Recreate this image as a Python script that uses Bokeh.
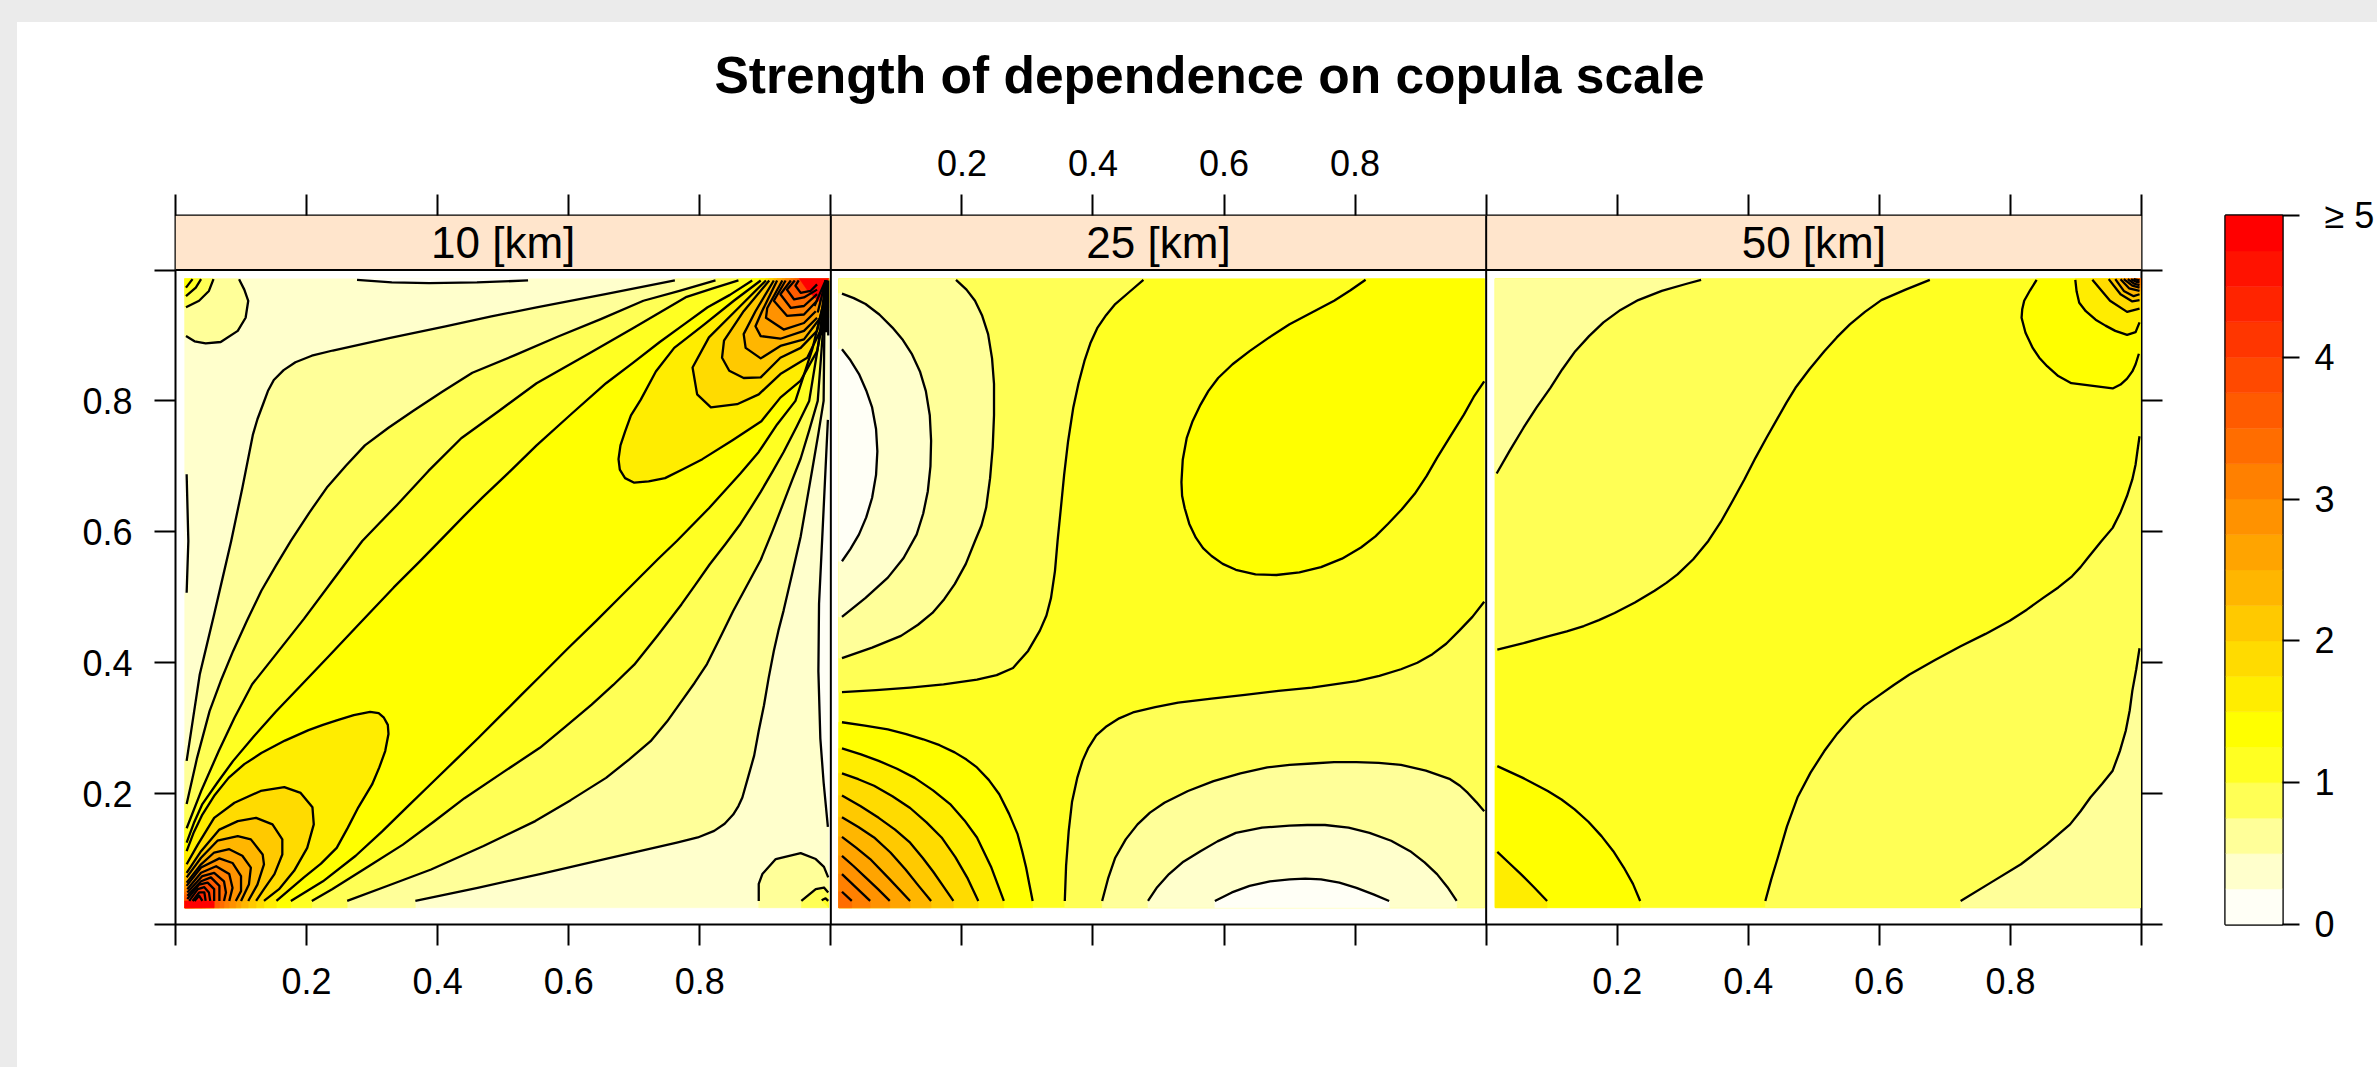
from bokeh.plotting import figure
from bokeh.layouts import row
from bokeh.models import Range1d, LinearAxis, FixedTicker, Title
from bokeh.core.properties import value
from bokeh.embed import file_html
from bokeh.resources import INLINE

TITLE = "Strength of dependence on copula scale"
STRIPS = ["10 [km]", "25 [km]", "50 [km]"]
TICKS = [0.0, 0.2, 0.4, 0.6, 0.8, 1.0]
KEY_TICKS = [0, 1, 2, 3, 4, 5]
KEY_LABELS = ["0", "1", "2", "3", "4", "\u00a0\u2265\u00a05"]
LEVEL_STEP = 0.25
# colour of each 0.25 wide band, low to high
BAND_COLORS = ["#FFFFF6", "#FFFFCC", "#FFFF99", "#FFFF55", "#FFFF22",
               "#FFFF00", "#FFED00", "#FFDB00", "#FFC900", "#FFB600",
               "#FFA400", "#FF9200", "#FF8000", "#FF6D00", "#FF5B00",
               "#FF4900", "#FF3600", "#FF2400", "#FF1200", "#FF0000"]
FONT = "Liberation Sans"

# ---- extent of the coloured cells in each panel: xmin, xmax, ymin, ymax
REGIONS = [(0.014, 0.997, 0.0257, 0.9867),
           (0.012, 0.9975, 0.0257, 0.9867),
           (0.0136, 0.9985, 0.0257, 0.9867)]

# ---- panel 1 (10 km): contour lines
P1_U0 = [(.762,.984),(.656,.963),(.551,.943),(.482,.929),(.412,.914),(.326,.896),(.240,.877),(.208,.869),(.183,.859),(.165,.847),(.150,.832),(.141,.815),(.134,.796),(.125,.772),(.118,.748),(.102,.667),(.085,.586),(.072,.530),(.059,.474),(.048,.428),(.037,.382),(.027,.316),(.017,.250)]
P1_U1 = [(.824,.984),(.769,.968),(.714,.953),(.649,.925),(.583,.898),(.518,.870),(.453,.843),(.407,.814),(.363,.785),(.325,.759),(.289,.732),(.260,.701),(.232,.669),(.204,.629),(.176,.586),(.153,.548),(.131,.510),(.109,.464),(.088,.418),(.069,.372),(.052,.326),(.033,.255),(.017,.184)]
P1_U2 = [(.859,.984),(.820,.972),(.780,.959),(.739,.935),(.698,.911),(.625,.869),(.551,.827),(.494,.785),(.436,.743),(.386,.693),(.338,.641),(.311,.613),(.285,.586),(.240,.526),(.196,.467),(.155,.415),(.117,.367),(.090,.316),(.066,.265),(.040,.206),(.017,.147)]
P1_U3 = [(.880,.984),(.846,.962),(.812,.943),(.776,.917),(.739,.890),(.698,.858),(.657,.827),(.604,.780),(.551,.732),(.510,.692),(.469,.653),(.440,.624),(.410,.593),(.372,.554),(.333,.515),(.282,.461),(.232,.408),(.192,.366),(.153,.325),(.120,.288),(.088,.250),(.064,.217),(.041,.184),(.028,.155),(.017,.125)]
P1_L0 = [(.366,.036),(.461,.056),(.556,.077),(.660,.101),(.765,.125),(.797,.133),(.822,.143),(.838,.154),(.851,.168),(.859,.181),(.865,.194),(.874,.226),(.883,.258),(.890,.296),(.898,.335),(.905,.376),(.913,.418),(.920,.449),(.928,.480),(.941,.536),(.954,.593),(.963,.645),(.972,.697),(.981,.750),(.989,.800),(.990,.900),(.992,.950)]
P1_L1 = [(.262,.036),(.326,.060),(.390,.084),(.470,.120),(.549,.158),(.603,.190),(.657,.224),(.692,.252),(.725,.280),(.750,.310),(.772,.341),(.792,.369),(.811,.398),(.831,.438),(.851,.479),(.872,.518),(.893,.557),(.911,.601),(.928,.645),(.941,.679),(.954,.712),(.967,.755),(.980,.800),(.986,.880),(.991,.950)]
P1_L2 = [(.208,.036),(.239,.054),(.293,.088),(.347,.122),(.394,.157),(.441,.193),(.499,.232),(.556,.270),(.596,.303),(.635,.336),(.668,.366),(.700,.397),(.736,.442),(.772,.489),(.794,.520),(.815,.550),(.839,.581),(.862,.612),(.878,.637),(.893,.661),(.911,.692),(.928,.722),(.948,.761),(.967,.800),(.980,.880),(.990,.950)]
P1_L3 = [(.176,.036),(.225,.066),(.275,.105),(.315,.142),(.354,.180),(.390,.215),(.426,.250),(.462,.285),(.498,.321),(.527,.350),(.556,.379),(.599,.422),(.642,.464),(.675,.497),(.707,.529),(.736,.558),(.765,.586),(.814,.636),(.862,.689),(.890,.722),(.918,.764),(.946,.800),(.972,.880),(.989,.950)]
P1_LOW = [
    [(.017,.112),(.028,.141),(.041,.168),(.060,.198),(.081,.224),(.105,.245),(.131,.262),(.167,.281),(.203,.297),(.225,.305),(.246,.312),(.272,.320),(.297,.325),(.310,.323),(.318,.316),(.324,.305),(.325,.291),(.320,.265),(.311,.240),(.300,.214),(.279,.179),(.263,.148),(.246,.117),(.222,.093),(.196,.072),(.175,.054),(.154,.036)],
    [(.017,.092),(.034,.122),(.059,.163),(.090,.186),(.130,.204),(.166,.210),(.191,.201),(.209,.179),(.211,.153),(.201,.117),(.181,.082),(.158,.054),(.135,.036)],
    [(.017,.079),(.039,.112),(.067,.145),(.095,.158),(.123,.163),(.148,.153),(.163,.130),(.163,.107),(.151,.077),(.135,.054),(.123,.036)],
    [(.017,.072),(.039,.102),(.064,.128),(.095,.135),(.115,.130),(.133,.107),(.135,.092),(.125,.061),(.111,.036)],
    [(.017,.064),(.039,.092),(.059,.110),(.082,.115),(.102,.105),(.115,.087),(.112,.061),(.100,.036)],
    [(.017,.059),(.039,.087),(.067,.101),(.087,.094),(.100,.074),(.100,.051),(.092,.036)],
    [(.018,.054),(.039,.079),(.062,.089),(.082,.077),(.087,.056),(.082,.036)],
    [(.018,.049),(.041,.074),(.059,.079),(.074,.066),(.077,.049),(.074,.036)],
    [(.018,.044),(.039,.066),(.054,.072),(.067,.059),(.067,.036)],
    [(.018,.039),(.036,.061),(.049,.064),(.059,.054),(.059,.036)],
    [(.021,.036),(.034,.054),(.044,.057),(.051,.049),(.053,.036)],
    [(.026,.036),(.036,.049),(.044,.049),(.046,.036)],
    [(.029,.036),(.036,.044),(.041,.036)],
]
P1_LOW_RED = [(.014,.0257),(.059,.0257),(.059,.036),(.014,.036)]
P1_HIGH = [
    [(.893,.984),(.852,.953),(.807,.917),(.761,.881),(.733,.845),(.710,.802),(.695,.778),(.686,.753),(.679,.732),(.676,.711),(.678,.695),(.686,.682),(.700,.675),(.722,.677),(.747,.682),(.775,.696),(.804,.711),(.850,.740),(.894,.769),(.923,.805),(.954,.831),(.979,.876),(.989,.927)],
    [(.901,.984),(.857,.940),(.814,.897),(.789,.851),(.796,.810),(.817,.790),(.857,.795),(.890,.810),(.923,.841),(.964,.866),(.984,.907),(.987,.937)],
    [(.906,.984),(.867,.937),(.837,.892),(.834,.866),(.845,.846),(.867,.835),(.893,.836),(.923,.866),(.954,.881),(.979,.907),(.987,.942)],
    [(.913,.984),(.885,.937),(.867,.902),(.870,.881),(.893,.865),(.923,.884),(.959,.894),(.984,.927)],
    [(.918,.984),(.895,.937),(.885,.914),(.893,.899),(.923,.895),(.959,.907),(.979,.927)],
    [(.926,.984),(.903,.942),(.901,.927),(.928,.909),(.959,.919),(.977,.937)],
    [(.931,.984),(.913,.953),(.933,.930),(.959,.932),(.979,.953)],
    [(.939,.984),(.923,.963),(.939,.942),(.959,.945),(.979,.963)],
    [(.945,.984),(.933,.970),(.944,.955),(.959,.958),(.979,.970)],
    [(.951,.984),(.946,.976),(.954,.965),(.969,.968),(.979,.978)],
]
P1_HIGH_RED = [(.952,.9867),(.996,.9867),(.984,.950),(.965,.968)]
P1_FAN = [
    [(.992,.984),(.975,.945)], [(.992,.984),(.980,.935)], [(.992,.984),(.985,.925)],
    [(.992,.984),(.988,.915)], [(.992,.984),(.992,.905)], [(.996,.984),(.996,.900)],
    [(.994,.984),(.994,.905)], [(.990,.950),(.986,.900)],
]
P1_RIGHT = [(.9955,.771),(.987,.593),(.982,.490),(.981,.387),(.984,.284),(.989,.217),(.9955,.149)]
P1_LEFT = [(.017,.688),(.0196,.586),(.017,.507)]
P1_TOP = [(.277,.985),(.330,.981),(.387,.980),(.460,.981),(.538,.984)]
P1_BR = [
    [(.890,.036),(.890,.062),(.8955,.077),(.916,.100),(.954,.109),(.977,.100),(.9895,.088),(.996,.072)],
    [(.955,.036),(.977,.054),(.9895,.0565),(.996,.049)],
    [(.986,.037),(.992,.040),(.996,.036)],
]
P1_TL = [
    [(.097,.986),(.105,.970),(.111,.953),(.107,.927),(.095,.907),(.069,.890),(.046,.888),(.029,.891),(.016,.899)],
    [(.058,.986),(.051,.968),(.036,.953),(.016,.943)],
    [(.039,.986),(.031,.973),(.016,.960)],
    [(.026,.986),(.016,.973)],
]

# ---- panel 2 (25 km)
P2_A = [(.017,.879),(.030,.862),(.043,.841),(.054,.816),(.063,.790),(.069,.757),(.071,.723),(.069,.687),(.063,.652),(.054,.622),(.043,.596),(.030,.574),(.017,.555)]
P2_B = [(.017,.964),(.035,.957),(.053,.948),(.074,.932),(.094,.912),(.110,.893),(.124,.871),(.136,.845),(.145,.815),(.151,.778),(.153,.739),(.152,.700),(.148,.662),(.141,.628),(.131,.596),(.111,.560),(.087,.530),(.053,.499),(.017,.470)]
P2_C = [(.191,.985),(.207,.970),(.220,.953),(.231,.930),(.240,.902),(.246,.865),(.249,.826),(.249,.778),(.247,.729),(.243,.682),(.237,.637),(.230,.610),(.220,.586),(.206,.551),(.189,.520),(.173,.497),(.155,.476),(.133,.458),(.107,.441),(.063,.423),(.017,.407)]
P2_D = [(.477,.985),(.455,.966),(.434,.948),(.420,.931),(.407,.912),(.396,.888),(.387,.861),(.378,.827),(.370,.790),(.362,.738),(.356,.687),(.351,.636),(.346,.586),(.342,.540),(.336,.499),(.329,.472),(.319,.449),(.301,.418),(.278,.392),(.253,.381),(.223,.374),(.172,.367),(.121,.362),(.069,.358),(.017,.355)]
P2_E = [(.816,.985),(.793,.969),(.768,.953),(.734,.935),(.700,.917),(.669,.897),(.639,.876),(.613,.856),(.591,.835),(.576,.815),(.564,.794),(.552,.769),(.543,.743),(.537,.710),(.535,.676),(.536,.655),(.540,.636),(.547,.612),(.557,.591),(.568,.575),(.581,.563),(.598,.551),(.618,.542),(.648,.535),(.680,.534),(.715,.538),(.748,.546),(.780,.559),(.809,.576),(.831,.593),(.850,.612),(.871,.634),(.891,.658),(.909,.685),(.925,.713),(.946,.747),(.966,.779),(.981,.806),(.997,.830)]
P2_F = [(.357,.036),(.359,.090),(.363,.143),(.368,.187),(.376,.224),(.384,.250),(.393,.270),(.405,.289),(.421,.303),(.440,.315),(.461,.324),(.495,.332),(.530,.339),(.581,.345),(.632,.351),(.683,.357),(.734,.362),(.802,.372),(.837,.380),(.870,.390),(.895,.400),(.918,.413),(.939,.429),(.959,.449),(.979,.470),(.997,.493)]
P2_P = [(.414,.036),(.423,.070),(.434,.102),(.450,.130),(.468,.153),(.487,.171),(.509,.186),(.545,.204),(.584,.219),(.625,.231),(.666,.240),(.700,.244),(.734,.246),(.768,.248),(.802,.248),(.836,.247),(.870,.244),(.908,.235),(.945,.222),(.960,.212),(.972,.201),(.985,.187),(.997,.173)]
P2_Q = [(.484,.036),(.498,.057),(.516,.077),(.538,.096),(.564,.112),(.590,.127),(.618,.140),(.658,.148),(.700,.151),(.727,.152),(.754,.152),(.790,.148),(.822,.140),(.855,.128),(.884,.112),(.906,.095),(.925,.077),(.941,.057),(.955,.036)]
P2_R = [(.586,.036),(.612,.049),(.639,.059),(.670,.066),(.700,.069),(.724,.070),(.748,.069),(.776,.064),(.802,.056),(.828,.046),(.852,.036)]
P2_LOW = [
    [(.017,.309),(.052,.304),(.087,.298),(.115,.291),(.141,.283),(.166,.274),(.189,.263),(.207,.252),(.223,.240),(.241,.221),(.257,.199),(.272,.169),(.285,.138),(.292,.112),(.298,.087),(.303,.061),(.308,.036)],
    [(.017,.269),(.046,.260),(.073,.250),(.101,.238),(.128,.224),(.156,.205),(.182,.184),(.204,.159),(.223,.133),(.245,.087),(.264,.036)],
    [(.017,.231),(.042,.222),(.066,.212),(.094,.196),(.121,.178),(.146,.156),(.169,.133),(.190,.103),(.209,.070),(.225,.036)],
    [(.017,.197),(.045,.181),(.073,.163),(.098,.145),(.121,.125),(.140,.102),(.156,.081),(.172,.058),(.187,.036)],
    [(.017,.164),(.042,.149),(.066,.133),(.091,.110),(.114,.084),(.134,.059),(.153,.036)],
    [(.017,.134),(.039,.117),(.060,.100),(.090,.069),(.121,.036)],
    [(.017,.105),(.035,.089),(.053,.072),(.072,.054),(.090,.036)],
    [(.017,.077),(.060,.036)],
    [(.017,.050),(.032,.036)],
]

# ---- panel 3 (50 km)
P3_A = [(.016,.689),(.036,.724),(.057,.759),(.077,.790),(.098,.820),(.116,.848),(.136,.876),(.157,.899),(.179,.920),(.205,.939),(.232,.954),(.268,.968),(.306,.979),(.328,.985)]
P3_B = [(.677,.985),(.640,.970),(.603,.954),(.578,.936),(.555,.917),(.535,.897),(.516,.876),(.493,.848),(.472,.820),(.458,.797),(.445,.774),(.428,.744),(.411,.713),(.394,.680),(.376,.647),(.358,.615),(.339,.586),(.316,.558),(.292,.535),(.275,.522),(.257,.510),(.227,.492),(.196,.476),(.172,.465),(.149,.456),(.123,.448),(.097,.441),(.057,.430),(.017,.420)]
P3_G = [(.426,.036),(.435,.069),(.445,.102),(.459,.150),(.475,.194),(.495,.232),(.516,.265),(.536,.292),(.557,.316),(.577,.334),(.598,.349),(.622,.366),(.646,.382),(.685,.404),(.724,.425),(.762,.444),(.799,.464),(.825,.481),(.850,.499),(.873,.515),(.894,.532),(.907,.546),(.918,.560),(.939,.586),(.956,.606),(.968,.630),(.978,.655),(.986,.680),(.991,.703),(.994,.725),(.997,.746)]
P3_J = [(.724,.036),(.770,.064),(.816,.092),(.855,.122),(.891,.153),(.907,.173),(.922,.194),(.940,.215),(.956,.235),(.967,.265),(.976,.296),(.982,.327),(.986,.357),(.992,.390),(.997,.422)]
P3_H = [(.017,.242),(.056,.224),(.094,.204),(.115,.191),(.135,.176),(.156,.157),(.176,.135),(.194,.112),(.210,.087),(.224,.062),(.235,.036)]
P3_I = [(.017,.111),(.035,.094),(.053,.077),(.073,.057),(.093,.036)]
P3_HIGH = [
    [(.840,.985),(.830,.969),(.821,.953),(.818,.940),(.817,.927),(.823,.904),(.834,.881),(.844,.866),(.856,.853),(.873,.838),(.893,.827),(.956,.819),(.968,.825),(.978,.834),(.986,.845),(.991,.856),(.996,.872)],
    [(.899,.985),(.901,.967),(.905,.950),(.915,.937),(.930,.924),(.945,.915),(.960,.907),(.978,.901),(.991,.905),(.997,.920)],
    [(.925,.985),(.952,.953),(.978,.936),(.997,.941)],
    [(.950,.986),(.968,.963),(.986,.952),(.997,.954)],
    [(.960,.986),(.973,.968),(.988,.960),(.997,.963)],
    [(.968,.986),(.981,.972),(.997,.968)],
    [(.973,.986),(.986,.976),(.997,.973)],
    [(.979,.986),(.989,.979),(.997,.977)],
    [(.984,.986),(.992,.982),(.997,.981)],
    [(.988,.986),(.997,.984)],
]


def snap(pt, reg):
    x, y = pt
    xmin, xmax, ymin, ymax = reg
    if x - xmin < 0.006:
        x = xmin
    if xmax - x < 0.012:
        x = xmax
    if y - ymin < 0.015:
        y = ymin
    if ymax - y < 0.008:
        y = ymax
    return (x, y)


def corner(name, reg):
    xmin, xmax, ymin, ymax = reg
    return {"TL": (xmin, ymax), "TR": (xmax, ymax), "BL": (xmin, ymin), "BR": (xmax, ymin)}[name]


def closed(line, name, reg):
    pts = [snap(line[0], reg)] + line + [snap(line[-1], reg)]
    if name:
        pts.append(corner(name, reg))
    return pts


def band(upper, lower, reg):
    return ([snap(upper[0], reg)] + upper + [snap(upper[-1], reg), corner("BL", reg),
            snap(lower[0], reg)] + lower + [snap(lower[-1], reg), corner("TR", reg)])


def rect(reg):
    return [corner("BL", reg), corner("BR", reg), corner("TR", reg), corner("TL", reg)]


R1, R2, R3 = REGIONS
# (panel, polygon, band index) in painting order
FILLS = [(0, rect(R1), 1),
         (0, band(P1_U0, P1_L0, R1), 2), (0, band(P1_U1, P1_L1, R1), 3),
         (0, band(P1_U2, P1_L2, R1), 4), (0, band(P1_U3, P1_L3, R1), 5)]
FILLS += [(0, closed(c, "BL", R1), 6 + i) for i, c in enumerate(P1_LOW)]
FILLS += [(0, P1_LOW_RED, 19)]
FILLS += [(0, closed(c, "TR", R1), 6 + i) for i, c in enumerate(P1_HIGH)]
FILLS += [(0, P1_HIGH_RED, 19)]
FILLS += [(0, closed(P1_RIGHT, None, R1), 0), (0, closed(P1_LEFT, None, R1), 0), (0, closed(P1_TOP, None, R1), 0)]
FILLS += [(0, closed(c, "BR", R1), 2 + i) for i, c in enumerate(P1_BR)]
FILLS += [(0, closed(c, "TL", R1), 2 + i) for i, c in enumerate(P1_TL)]
FILLS += [(1, rect(R2), 4), (1, closed(P2_D, "TL", R2), 3), (1, closed(P2_C, "TL", R2), 2),
          (1, closed(P2_B, None, R2), 1), (1, closed(P2_A, None, R2), 0),
          (1, closed(P2_E, "TR", R2), 5), (1, closed(P2_F, "BR", R2), 3),
          (1, closed(P2_P, "BR", R2), 2), (1, closed(P2_Q, None, R2), 1), (1, closed(P2_R, None, R2), 0)]
FILLS += [(1, closed(c, "BL", R2), 5 + i) for i, c in enumerate(P2_LOW)]
FILLS += [(2, rect(R3), 4), (2, closed(P3_B, "TL", R3), 3), (2, closed(P3_A, "TL", R3), 2),
          (2, closed(P3_G, "BR", R3), 3), (2, closed(P3_J, "BR", R3), 2),
          (2, closed(P3_H, "BL", R3), 5), (2, closed(P3_I, "BL", R3), 6)]
FILLS += [(2, closed(c, "TR", R3), 5 + i) for i, c in enumerate(P3_HIGH)]

LINES = [(0, c) for c in [P1_U0, P1_U1, P1_U2, P1_U3, P1_L0, P1_L1, P1_L2, P1_L3, P1_RIGHT, P1_LEFT, P1_TOP]
         + P1_LOW + P1_HIGH + P1_FAN + P1_BR + P1_TL]
LINES += [(1, c) for c in [P2_A, P2_B, P2_C, P2_D, P2_E, P2_F, P2_P, P2_Q, P2_R] + P2_LOW]
LINES += [(2, c) for c in [P3_A, P3_B, P3_G, P3_J, P3_H, P3_I] + P3_HIGH]

STRIP_TOP = 709 / 654.5
p = figure(width=2181, height=1067, x_range=Range1d(0, 3), y_range=Range1d(0, STRIP_TOP),
           output_backend="svg", toolbar_location=None, x_axis_location=None, y_axis_location=None,
           min_border_left=175, min_border_right=40, min_border_top=215, min_border_bottom=143,
           background_fill_color=None, border_fill_color=None, outline_line_color="black", outline_line_width=2)
p.grid.visible = False

p.patches([[q[0] + i for q in poly] for i, poly, _ in FILLS],
          [[q[1] for q in poly] for _, poly, _ in FILLS],
          fill_color=[BAND_COLORS[b] for _, _, b in FILLS],
          line_color=[BAND_COLORS[b] for _, _, b in FILLS], line_width=0.5)
p.multi_line([[q[0] + i for q in c] for i, c in LINES], [[q[1] for q in c] for _, c in LINES],
             line_color="black", line_width=2.3, line_join="round", line_cap="butt")

p.quad(left=[0, 1, 2], right=[1, 2, 3], bottom=1, top=STRIP_TOP, fill_color="#FFE5CC", line_color=None)
p.multi_line([[1, 1], [2, 2], [0, 3]], [[0, STRIP_TOP], [0, STRIP_TOP], [1, 1]], line_color="black", line_width=2)
p.text([0.5, 1.5, 2.5], [(1 + STRIP_TOP) / 2] * 3, text=STRIPS, text_align="center", text_baseline="middle",
       text_font=value(FONT), text_font_size="44px", text_color="black")


def style(ax, standoff, size="36px"):
    ax.axis_line_color = None
    ax.major_tick_line_color = "black"
    ax.major_tick_line_width = 2
    ax.major_tick_in = 0
    ax.major_tick_out = 21
    ax.minor_tick_line_color = None
    ax.major_label_standoff = standoff
    ax.major_label_text_font = FONT
    ax.major_label_text_font_size = size
    ax.major_label_text_color = "black"
    ax.major_label_orientation = "horizontal"


def x_axis(labelled):
    ticks, over = [], {}
    for i in range(3):
        for t in TICKS:
            v = i + t
            if v in ticks:
                continue
            ticks.append(v)
            over[v] = f"{t:.1f}" if (i in labelled and 0 < t < 1) else ""
    ax = LinearAxis(ticker=FixedTicker(ticks=ticks), major_label_overrides=over)
    return ax


bottom = x_axis({0, 2})
style(bottom, 22)
p.add_layout(bottom, "below")
top = x_axis({1})
style(top, 19)
p.add_layout(top, "above")
left = LinearAxis(ticker=FixedTicker(ticks=TICKS),
                  major_label_overrides={t: (f"{t:.1f}" if 0 < t < 1 else "") for t in TICKS})
style(left, 22)
p.add_layout(left, "left")
right = LinearAxis(ticker=FixedTicker(ticks=TICKS), major_label_overrides={t: "" for t in TICKS})
style(right, 5)
p.add_layout(right, "right")

p.add_layout(Title(text=TITLE, align="left", offset=539, standoff=85, text_font=FONT,
                   text_font_style="bold", text_font_size="51.5px", text_color="black"), "above")

key = figure(width=196, height=1067, x_range=Range1d(0, 1), y_range=Range1d(0, 5),
             output_backend="svg", toolbar_location=None, x_axis_location=None, y_axis_location=None,
             min_border_left=44, min_border_right=88, min_border_top=215, min_border_bottom=143,
             background_fill_color=None, border_fill_color=None, outline_line_color="black", outline_line_width=2.5)
key.grid.visible = False
key_lows = [i * LEVEL_STEP for i in range(len(BAND_COLORS))]
key.quad(left=0, right=1, bottom=key_lows, top=[v + LEVEL_STEP for v in key_lows],
         fill_color=BAND_COLORS, line_color=BAND_COLORS, line_width=0.5)
key_axis = LinearAxis(ticker=FixedTicker(ticks=KEY_TICKS),
                      major_label_overrides=dict(zip(KEY_TICKS, KEY_LABELS)))
style(key_axis, 15)
key_axis.major_tick_out = 17
key.add_layout(key_axis, "right")

html = file_html(row(p, key, spacing=0), INLINE)
css = ("<style>html{background:linear-gradient(#ebebeb 22px,transparent 22px),"
       "linear-gradient(90deg,#ebebeb 17px,#fff 17px)}</style></head>")
open("out.html", "w").write(html.replace("</head>", css, 1))
